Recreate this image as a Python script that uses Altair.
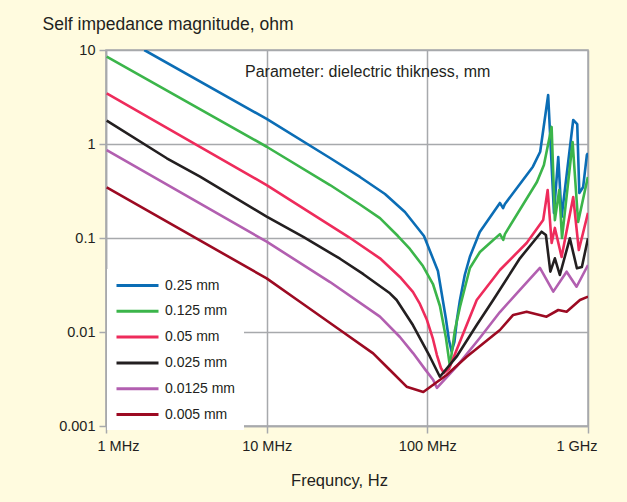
import altair as alt
import pandas as pd

FONT = "Liberation Sans"
INK = "#231F20"
GRID = "#A7A9AC"

# Dielectric thickness series (legend order) and their colours
series_names = ["0.25 mm", "0.125 mm", "0.05 mm", "0.025 mm", "0.0125 mm", "0.005 mm"]
series_colors = ["#0B6DB5", "#3BB54A", "#EE2B5B", "#231F20", "#B25FB0", "#9C0A22"]

# Frequency (MHz) and self impedance magnitude (ohm) for each thickness
f_025 = [1.73, 10, 24.8, 38.07, 54.5, 72.55, 95.3, 116.4, 130.3, 136.3, 141.6, 147.4, 152.8, 159.6, 171, 184, 212,
         283, 296, 304, 454, 504, 565, 614, 653, 685, 809, 857, 883, 933, 984, 1000]
z_025 = [10, 1.85, 0.710, 0.446, 0.294, 0.189, 0.105, 0.0446, 0.0141, 0.00822, 0.0062, 0.00783, 0.0135, 0.0219,
         0.0404, 0.0632, 0.116, 0.236, 0.208, 0.230, 0.574, 0.828, 3.32, 0.185, 0.728, 0.167, 1.80, 1.63, 0.301,
         0.349, 0.764, 0.80]

f_0125 = [1.01, 10, 24.8, 38.07, 50.7, 65.6, 77.9, 93.9, 108.4, 119.8, 130.6, 138.2, 148.5, 159.6, 184.1, 212.5,
          245.3, 283, 296.8, 304, 481, 531.6, 593.6, 622, 662, 689, 802, 868, 998]
z_0125 = [8.49, 0.935, 0.366, 0.227, 0.163, 0.105, 0.0764, 0.0503, 0.0324, 0.0189, 0.00863, 0.00434, 0.0105,
          0.01845, 0.048, 0.071, 0.0885, 0.110, 0.0953, 0.110, 0.394, 0.598, 1.52, 0.155, 0.324, 0.1, 1.05, 0.148,
          0.446]

f_005 = [1.01, 10, 32.2, 50.7, 67.5, 81.3, 89.9, 99.5, 108.4, 114.7, 121.5, 126.9, 136.3, 152.1, 203, 283, 415,
         526, 561, 594, 622, 685, 809, 877, 1000]
z_005 = [3.46, 0.366, 0.103, 0.0608, 0.0385, 0.0267, 0.0199, 0.0134, 0.00843, 0.00569, 0.00414, 0.00366, 0.00403,
         0.00644, 0.0219, 0.0457, 0.0885, 0.155, 0.324, 0.0885, 0.128, 0.0628, 0.273, 0.0745, 0.185]

f_0025 = [1.01, 2.39, 3.85, 10, 16.9, 28.6, 40, 58.5, 64.4, 81.3, 103.8, 119.7, 152, 203, 257, 377, 514, 547, 583,
          622, 668, 771, 853, 916, 1000]
z_0025 = [1.77, 0.705, 0.449, 0.169, 0.103, 0.0602, 0.0412, 0.0258, 0.0219, 0.01186, 0.00546, 0.00334, 0.00546,
          0.01186, 0.0219, 0.0608, 0.1167, 0.1076, 0.0438, 0.0608, 0.0404, 0.0993, 0.0476, 0.0491, 0.0993]

f_00125 = [1.01, 10, 24.8, 50.7, 67.5, 81.7, 96.6, 108.9, 114.8, 152, 212, 283, 377, 502, 608, 736, 849, 1000]
z_00125 = [0.863, 0.0914, 0.034, 0.01456, 0.00885, 0.00593, 0.00403, 0.00308, 0.00254, 0.00428, 0.00863, 0.0163,
           0.028, 0.048, 0.0269, 0.0438, 0.0303, 0.0516]

f_0005 = [1.01, 10, 16.1, 28.6, 46, 58.5, 74.3, 94.4, 131.8, 175.8, 283, 342.4, 415, 552, 653, 736, 891, 1000]
z_0005 = [0.346, 0.0372, 0.021, 0.0105, 0.00593, 0.00394, 0.00262, 0.0023, 0.00349, 0.00546, 0.0105, 0.0152,
          0.01644, 0.01456, 0.01714, 0.01644, 0.0219, 0.0238]

x_tick_values = [1e6, 1e7, 1e8, 1e9]
x_tick_labels = ["1 MHz", "10 MHz", "100 MHz", "1 GHz"]
y_tick_values = [0.001, 0.01, 0.1, 1, 10]

note_text = "Parameter: dielectric thikness, mm"

curves = [(f_025, z_025), (f_0125, z_0125), (f_005, z_005),
          (f_0025, z_0025), (f_00125, z_00125), (f_0005, z_0005)]
rows = []
for name, (fs, zs) in zip(series_names, curves):
    for i, (f, z) in enumerate(zip(fs, zs)):
        rows.append({"series": name, "freq_hz": f * 1e6, "z": z, "i": i})
df = pd.DataFrame(rows)

x_label_expr = " : ".join(
    f"datum.value == {v:.0f} ? '{t}'" for v, t in zip(x_tick_values, x_tick_labels)
) + " : ''"

lines = alt.Chart(df).mark_line(strokeWidth=2.6, clip=True, strokeJoin="round").encode(
    x=alt.X(
        "freq_hz:Q",
        scale=alt.Scale(type="log", domain=[1e6, 1e9], nice=False),
        axis=alt.Axis(
            values=x_tick_values,
            labelExpr=x_label_expr,
            title="Frequncy, Hz",
            titleX=233,
            titleY=59,
            titleAlign="center",
            titleBaseline="alphabetic",
            labelFlush=True,
            labelFlushOffset=9,
            labelPadding=6,
        ),
    ),
    y=alt.Y(
        "z:Q",
        scale=alt.Scale(type="log", domain=[0.001, 10], nice=False),
        axis=alt.Axis(
            values=y_tick_values,
            format="~g",
            title="Self impedance magnitude, ohm",
            titleAngle=0,
            titleAlign="left",
            titleBaseline="alphabetic",
            titleX=-64,
            titleY=-21,
            labelPadding=4,
        ),
    ),
    color=alt.Color(
        "series:N",
        scale=alt.Scale(domain=series_names, range=series_colors),
        legend=alt.Legend(
            title=None,
            orient="none",
            legendX=1,
            legendY=219,
            fillColor="white",
            padding=8,
            symbolType="M-1,0H5",
            symbolSize=196,
            symbolStrokeWidth=3,
            labelOffset=33,
            labelFont=FONT,
            labelFontSize=14,
            labelColor=INK,
            rowPadding=9.8,
        ),
    ),
    order=alt.Order("i:Q"),
)

note = alt.Chart(pd.DataFrame({"note": [note_text]})).mark_text(
    align="left", baseline="middle", font=FONT, fontSize=16, color=INK
).encode(x=alt.value(139), y=alt.value(22), text="note:N")

chart = alt.layer(lines, note).properties(
    width=482,
    height=376,
    background="#FFFBDF",
    padding={"left": 106, "top": 50, "right": 39, "bottom": 76},
    autosize=alt.AutoSizeParams(type="none"),
).configure_view(
    stroke=GRID, strokeWidth=1.5, fill="white"
).configure_axis(
    domainColor=GRID,
    domainWidth=1.5,
    tickColor=GRID,
    tickWidth=1.5,
    tickSize=7,
    gridColor=GRID,
    gridWidth=1.5,
    labelFont=FONT,
    labelFontSize=14.5,
    labelColor=INK,
    titleFont=FONT,
    titleFontSize=16.5,
    titleFontWeight="normal",
    titleColor=INK,
).configure_axisY(
    titleFontSize=17.5,
)

chart.save("out.html", embed_options={"renderer": "svg", "actions": False})
